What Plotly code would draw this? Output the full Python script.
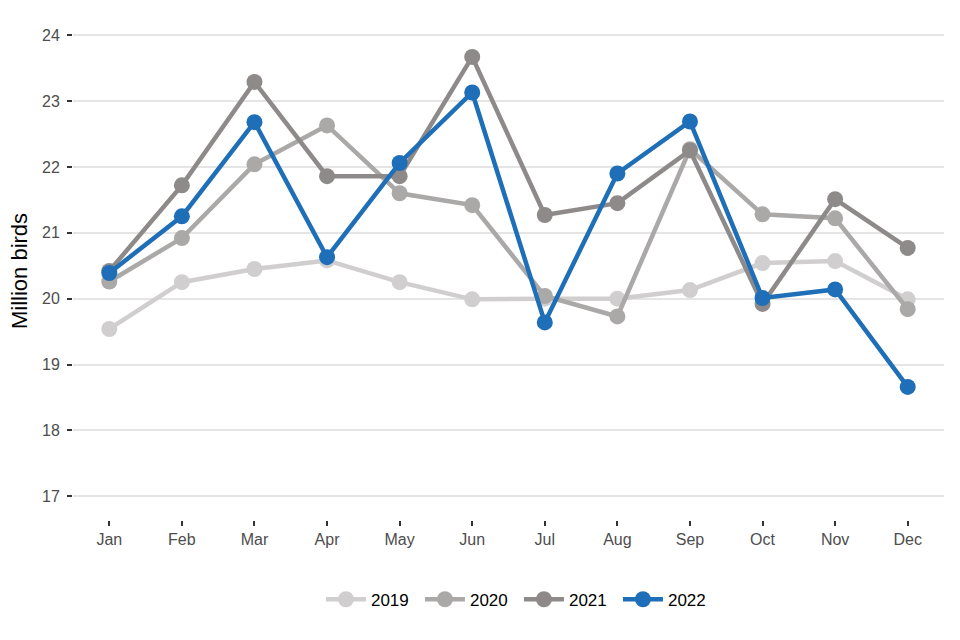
import plotly.graph_objects as go

months = ["Jan", "Feb", "Mar", "Apr", "May", "Jun", "Jul", "Aug", "Sep", "Oct", "Nov", "Dec"]
y2019 = [19.54, 20.25, 20.45, 20.58, 20.25, 19.99, 20.00, 20.00, 20.13, 20.54, 20.57, 19.99]
y2020 = [20.26, 20.92, 22.04, 22.63, 21.60, 21.42, 20.04, 19.73, 22.27, 21.28, 21.22, 19.84]
y2021 = [20.42, 21.72, 23.29, 21.86, 21.86, 23.67, 21.27, 21.45, 22.25, 19.92, 21.51, 20.77]
y2022 = [20.39, 21.25, 22.68, 20.63, 22.06, 23.13, 19.64, 21.90, 22.69, 20.01, 20.14, 18.66]

series = [
    ("2019", y2019, "#d0cece"),
    ("2020", y2020, "#aba8a8"),
    ("2021", y2021, "#8e8a8a"),
    ("2022", y2022, "#1f6fb8"),
]

fig = go.Figure()
for name, vals, col in series:
    fig.add_trace(go.Scatter(
        x=months, y=vals, name=name, mode="lines+markers",
        line=dict(color=col, width=4.5),
        marker=dict(color=col, size=16),
        cliponaxis=False,
    ))

fig.update_layout(
    width=960, height=640,
    paper_bgcolor="white", plot_bgcolor="white",
    font=dict(family="Liberation Sans, Arial, sans-serif", color="#4d4d4d", size=16),
    margin=dict(l=73, r=16, t=22, b=120, autoexpand=False),
    legend=dict(orientation="h", x=0.512, xanchor="center", y=-0.16, yanchor="middle",
                font=dict(size=17, color="black"), itemwidth=40,
                entrywidth=44, entrywidthmode="pixels"),
    showlegend=True,
)
fig.update_xaxes(
    range=[-0.5, 11.5], showgrid=False, zeroline=False, showline=False,
    ticks="outside", ticklen=5, tickwidth=1.5, tickcolor="#333333",
    tickfont=dict(size=16, color="#4d4d4d"), automargin=False,
)
fig.update_yaxes(
    range=[16.64, 24.2], tickvals=[17, 18, 19, 20, 21, 22, 23, 24],
    showgrid=True, gridcolor="#e5e5e5", gridwidth=2, zeroline=False, showline=False,
    ticks="outside", ticklen=5, tickwidth=2, tickcolor="#333333",
    tickfont=dict(size=16, color="#4d4d4d"), automargin=False, ticklabelstandoff=4,
    title=dict(text="Million birds", font=dict(size=22, color="black"), standoff=8),
)
fig.write_html("out.html", config={"displayModeBar": False},
               post_script="document.body.style.margin='0';")
